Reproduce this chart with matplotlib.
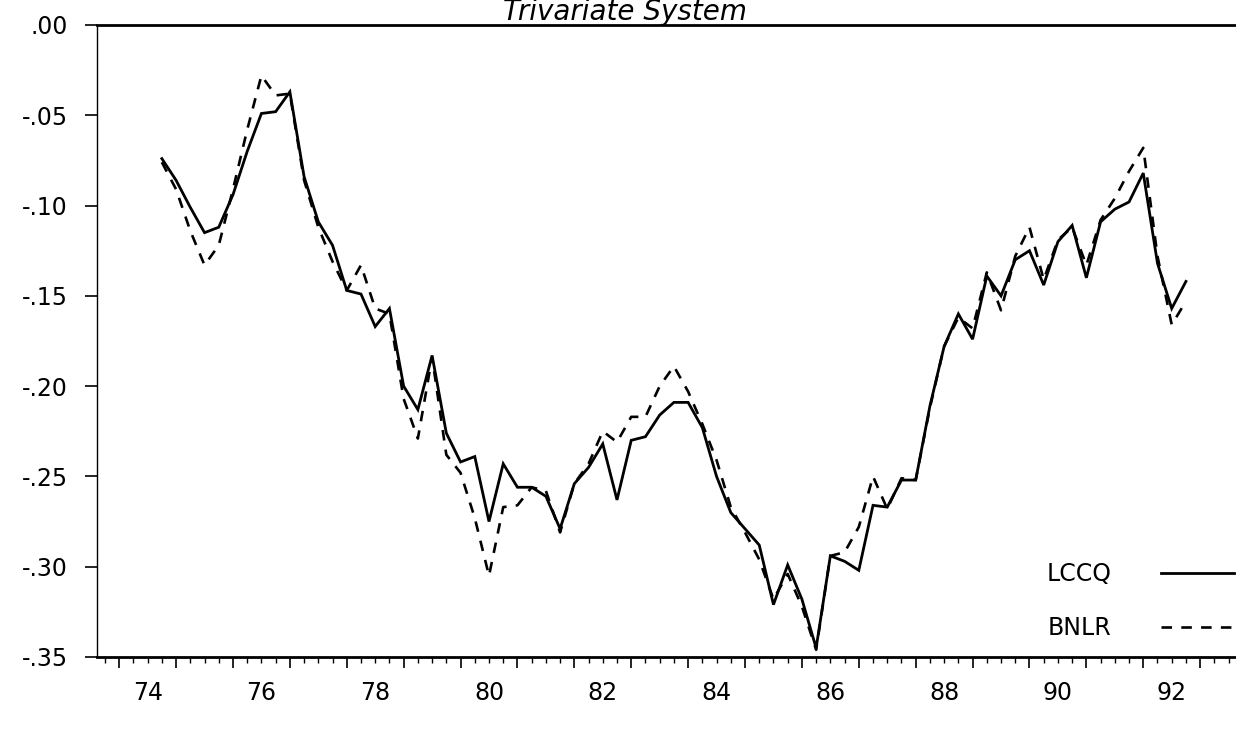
import numpy as np
import matplotlib
matplotlib.use("Agg")
import matplotlib.pyplot as plt
from matplotlib.ticker import FixedLocator, NullFormatter

# ---- data (quarterly, 1974Q4 .. 1992Q4) ----
start_year = 1974
start_quarter = 4
lccq = [-0.074, -0.086, -0.101, -0.115, -0.112, -0.094, -0.070, -0.049, -0.048, -0.037,
        -0.084, -0.109, -0.122, -0.147, -0.149, -0.167, -0.157, -0.200, -0.213, -0.183,
        -0.226, -0.242, -0.239, -0.275, -0.243, -0.256, -0.256, -0.261, -0.279, -0.254,
        -0.245, -0.232, -0.263, -0.230, -0.228, -0.216, -0.209, -0.209, -0.223, -0.250,
        -0.270, -0.279, -0.288, -0.321, -0.299, -0.318, -0.345, -0.294, -0.297, -0.302,
        -0.266, -0.267, -0.252, -0.252, -0.211, -0.178, -0.160, -0.174, -0.139, -0.150,
        -0.130, -0.125, -0.144, -0.120, -0.111, -0.140, -0.109, -0.102, -0.098, -0.082,
        -0.132, -0.157, -0.142]
bnlr = [-0.076, -0.091, -0.114, -0.133, -0.122, -0.091, -0.058, -0.028, -0.039, -0.038,
        -0.086, -0.112, -0.131, -0.147, -0.133, -0.157, -0.160, -0.207, -0.229, -0.184,
        -0.238, -0.248, -0.273, -0.305, -0.267, -0.266, -0.256, -0.258, -0.281, -0.254,
        -0.243, -0.225, -0.231, -0.217, -0.217, -0.200, -0.189, -0.203, -0.221, -0.241,
        -0.267, -0.281, -0.296, -0.318, -0.304, -0.322, -0.346, -0.294, -0.292, -0.278,
        -0.250, -0.268, -0.251, -0.252, -0.212, -0.178, -0.162, -0.168, -0.137, -0.158,
        -0.128, -0.112, -0.141, -0.119, -0.112, -0.133, -0.108, -0.096, -0.081, -0.068,
        -0.128, -0.166, -0.153]
series_names = ["LCCQ", "BNLR"]
title = "Trivariate System"
y_ticks = [0.00, -0.05, -0.10, -0.15, -0.20, -0.25, -0.30, -0.35]
y_tick_labels = [".00", "-.05", "-.10", "-.15", "-.20", "-.25", "-.30", "-.35"]
x_label_years = [1974, 1976, 1978, 1980, 1982, 1984, 1986, 1988, 1990, 1992]
x_tick_labels = ["74", "76", "78", "80", "82", "84", "86", "88", "90", "92"]

# quarterly time axis
n = len(lccq)
t = start_year + (start_quarter - 1) / 4 + 0.25 * np.arange(n)

W, H = 1236, 733
fig = plt.figure(figsize=(W / 100, H / 100), dpi=100)
left, right, top, bottom = 97, 1236, 25, 657
ax = fig.add_axes([left / W, 1 - bottom / H, (right - left) / W, (bottom - top) / H])

ax.plot(t, lccq, color="black", lw=2.0, solid_joinstyle="miter", label=series_names[0])
ax.plot(t, bnlr, color="black", lw=1.9, linestyle=(0, (4, 3.5)), label=series_names[1])

ax.set_xlim(1973.61, 1993.63)
ax.set_ylim(-0.35, 0.0)

# spines
ax.spines["right"].set_visible(False)
ax.spines["top"].set_linewidth(2.0)
ax.spines["bottom"].set_linewidth(2.0)
ax.spines["left"].set_linewidth(1.0)

# y ticks
ax.set_yticks(y_ticks)
ax.set_yticklabels(y_tick_labels)
ax.tick_params(axis="y", direction="out", length=9, width=1.2, pad=12, labelsize=17)

# x ticks: years (major), quarters (minor), labels centred on year intervals
years = np.arange(1974, 1994)
ax.xaxis.set_major_locator(FixedLocator(years))
ax.xaxis.set_major_formatter(NullFormatter())
quarters = np.arange(1973.75, 1993.6, 0.25)
ax.xaxis.set_minor_locator(FixedLocator(quarters))
ax.tick_params(axis="x", which="major", direction="out", length=8, width=1.2)
ax.tick_params(axis="x", which="minor", direction="out", length=4, width=1.0)

sec = ax.secondary_xaxis("bottom")
sec.set_xticks([y + 0.5 for y in x_label_years])
sec.set_xticklabels(x_tick_labels)
sec.tick_params(axis="x", length=0, pad=17, labelsize=17)
sec.spines["bottom"].set_visible(False)

fig.text(625 / W, 1 - 20 / H, title, ha="center", va="baseline",
         style="italic", fontsize=20)

leg = ax.legend(loc="lower right", bbox_to_anchor=(1234 / W, 1 - 640 / H),
                bbox_transform=fig.transFigure, frameon=False, markerfirst=False,
                fontsize=17, handlelength=3.1, handletextpad=2.1, labelspacing=1.25,
                borderpad=0, borderaxespad=0)

fig.savefig("out.png", dpi=100, facecolor="white")
